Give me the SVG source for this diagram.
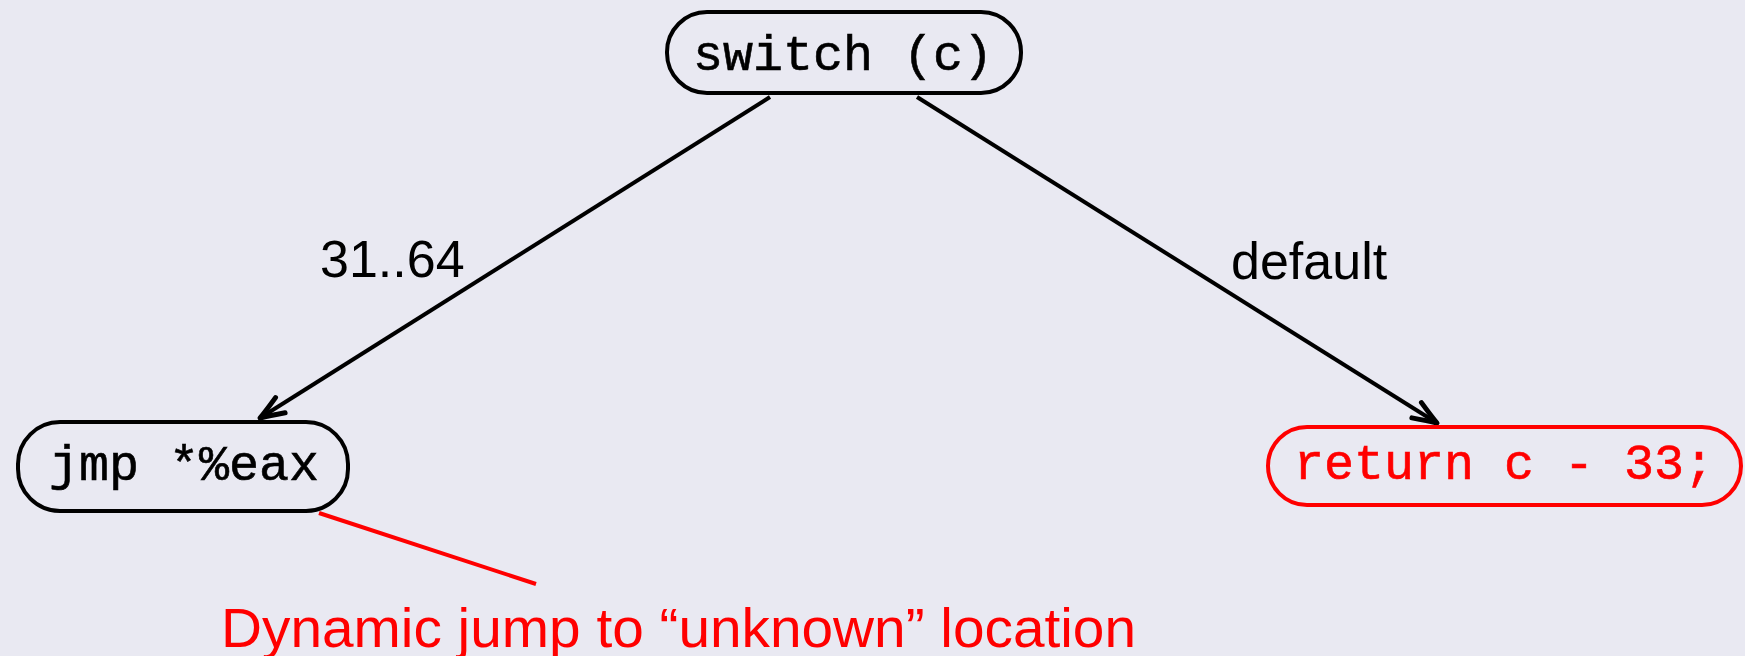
<svg xmlns="http://www.w3.org/2000/svg" width="1745" height="656" viewBox="0 0 1745 656">
  <style>
    .node { fill: none; stroke: #000; stroke-width: 4; }
    .red { stroke: #FF0000; }
    .code { font-family: "Liberation Mono", "DejaVu Sans Mono", monospace; font-size: 50px; text-anchor: middle; fill: #000; stroke: #000; stroke-width: 0.6; }
    .lbl { font-family: "Liberation Sans", Arial, sans-serif; font-size: 52px; fill: #000; }
    .edge { stroke: #000; stroke-width: 4; fill: none; }
  </style>
  <defs>
    <marker id="arr" markerUnits="userSpaceOnUse" orient="auto" refX="0" refY="0" markerWidth="60" markerHeight="60" overflow="visible">
      <path d="M -24,-9 Q -9,-3 0,0 Q -9,3 -24,9" fill="none" stroke="#000" stroke-width="5" stroke-linecap="round" stroke-linejoin="round"/>
    </marker>
  </defs>
  <rect width="1745" height="656" fill="#E9E9F2"/>
  <g id="connectors">
    <line class="edge" x1="770" y1="97" x2="260" y2="418" marker-end="url(#arr)"/>
    <line class="edge" x1="917" y1="97" x2="1437" y2="423" marker-end="url(#arr)"/>
    <text class="lbl" x="320" y="277">31..64</text>
    <text class="lbl" x="1231" y="279">default</text>
    <line x1="319" y1="513" x2="536" y2="584" stroke="#FF0000" stroke-width="4"/>
  </g>
  <g id="switch">
    <rect class="node" x="667" y="12" width="354" height="81" rx="40"/>
    <text class="code" x="843" y="70">switch (c)</text>
  </g>
  <g id="jmp">
    <rect class="node" x="18" y="422" width="330" height="89" rx="42"/>
    <text class="code" x="184" y="480">jmp *%eax</text>
  </g>
  <g id="ret">
    <rect class="node red" x="1268" y="427" width="473" height="78" rx="39"/>
    <text class="code" x="1504" y="479" style="fill:#FF0000;stroke:#FF0000">return c - 33;</text>
  </g>
  <g id="note">
    <text x="221" y="647" font-family="'Liberation Sans', Arial, sans-serif" font-size="56" fill="#FF0000" textLength="915" lengthAdjust="spacingAndGlyphs">Dynamic jump to “unknown” location</text>
  </g>
</svg>
